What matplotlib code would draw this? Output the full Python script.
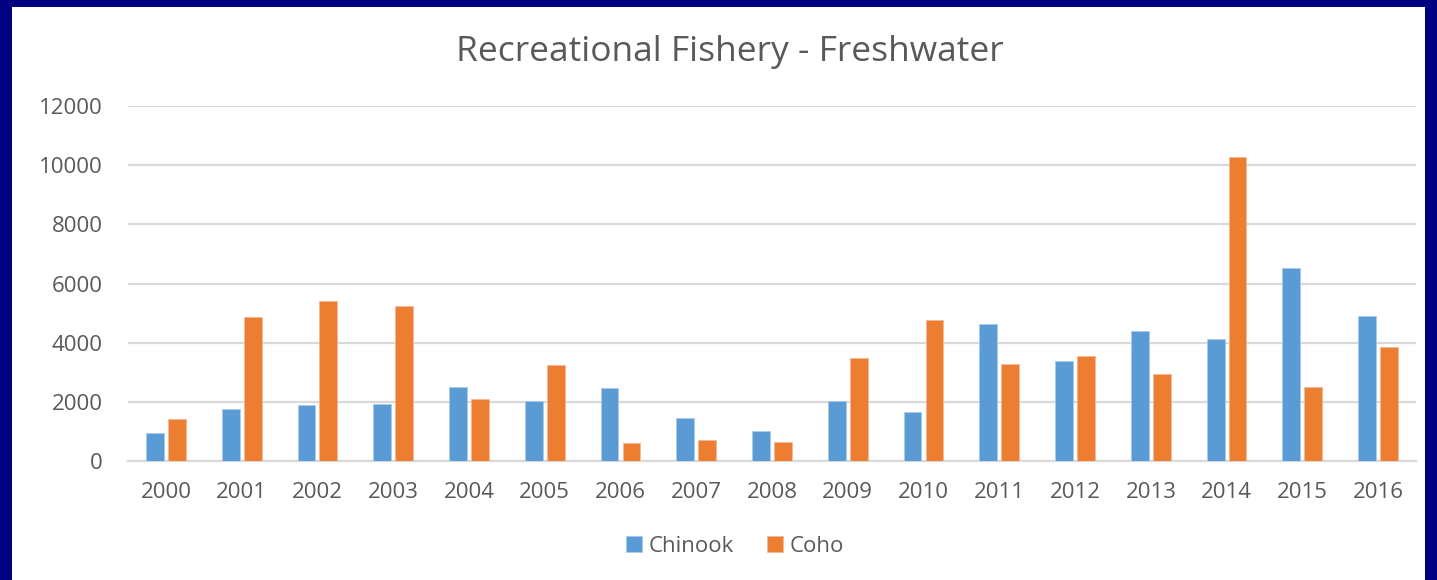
import matplotlib.pyplot as plt
import numpy as np
from matplotlib.patches import Rectangle

years = ['2000', '2001', '2002', '2003', '2004', '2005', '2006', '2007', '2008',
         '2009', '2010', '2011', '2012', '2013', '2014', '2015', '2016']
chinook = [940, 1760, 1890, 1940, 2500, 2020, 2460, 1450, 1030,
           2020, 1670, 4620, 3380, 4410, 4110, 6540, 4890]
coho = [1410, 4880, 5400, 5230, 2110, 3230, 600, 720, 630,
        3490, 4750, 3280, 3550, 2940, 10260, 2500, 3850]

blue = '#5B9BD5'
orange = '#ED7D31'
grey_text = '#595959'

plt.rcParams['font.family'] = ['Open Sans', 'DejaVu Sans']

fig = plt.figure(figsize=(14.37, 5.8), dpi=100)
fig.patch.set_facecolor('#000080')
# white chart area inside the navy frame
fig.patches.append(Rectangle((12 / 1437, 0), 1413 / 1437, 1 - 7 / 580,
                             transform=fig.transFigure, facecolor='white',
                             edgecolor='none', zorder=-10))

ax = fig.add_axes([128 / 1437, 1 - 461 / 580, 1288 / 1437, 355 / 580])
ax.set_facecolor('none')

x = np.arange(len(years))
w = 0.235
ax.bar(x - 0.145, chinook, w, color=blue, edgecolor='#A9CBEB', linewidth=0.6,
       label='Chinook', zorder=3)
ax.bar(x + 0.145, coho, w, color=orange, edgecolor='#F6B896', linewidth=0.6,
       label='Coho', zorder=3)

ax.set_xlim(-0.5, len(years) - 0.5)
ax.set_ylim(0, 12000)
ax.set_yticks(range(0, 12001, 2000))
ax.set_xticks(x)
ax.set_xticklabels(years)
ax.yaxis.grid(True, color='#D9D9D9', linewidth=1.6, zorder=0)
ax.set_axisbelow(True)
for s in ['top', 'right', 'left']:
    ax.spines[s].set_visible(False)
ax.spines['bottom'].set_color('#D9D9D9')
ax.spines['bottom'].set_linewidth(1.6)
ax.tick_params(axis='both', length=0, labelsize=16, labelcolor=grey_text)
ax.tick_params(axis='y', pad=18)
ax.tick_params(axis='x', pad=15)

fig.text(730 / 1437, 1 - 52 / 580, 'Recreational Fishery - Freshwater',
         ha='center', va='center', fontsize=25.5, color=grey_text)

ax.legend(loc='center', bbox_to_anchor=(735 / 1437, 1 - 546 / 580),
          bbox_transform=fig.transFigure, ncol=2, frameon=False,
          fontsize=16, labelcolor=grey_text, handlelength=0.7,
          handleheight=0.7, handletextpad=0.3, columnspacing=1.5)

fig.savefig('out.png', dpi=100, facecolor=fig.get_facecolor())
